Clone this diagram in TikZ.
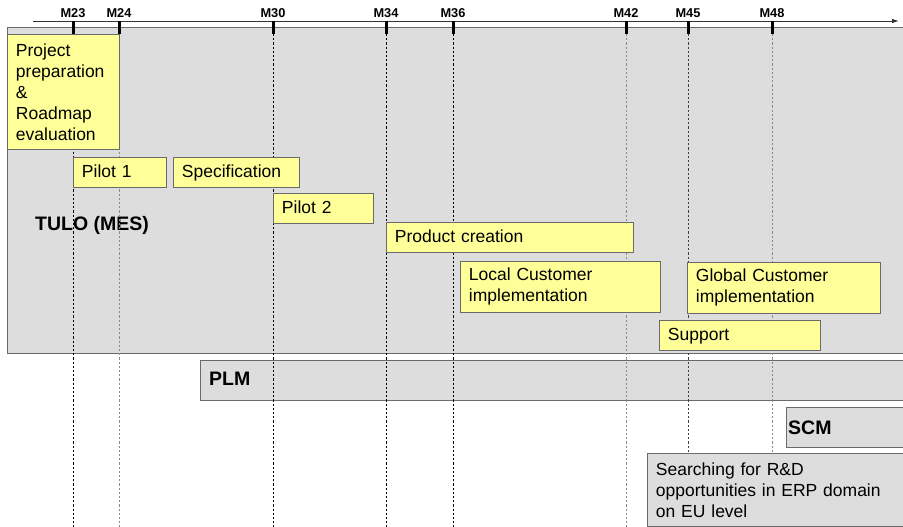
\documentclass[tikz,border=0pt]{standalone}
\usepackage{fontspec}
\setmainfont{Liberation Sans}
\usetikzlibrary{arrows.meta}
\definecolor{panel}{HTML}{DDDDDD}
\definecolor{note}{HTML}{FFFF99}
\definecolor{edge}{HTML}{6A6A6A}
\definecolor{guide}{HTML}{8A8A8A}

\begin{document}
\begin{tikzpicture}[x=1pt,y=-1pt,
  sz/.style n args={3}{minimum width=#1pt, minimum height=#2pt, text width=#3pt},
  task/.style={draw=edge, fill=note, line width=0.9pt, anchor=north west,
    inner xsep=8.5pt, inner ysep=0pt, align=left,
    font=\fontsize{17.5}{21}\selectfont},
  oneline/.style={text height=12.6pt, text depth=3.4pt},
  area/.style={draw=edge, fill=panel, line width=1pt, anchor=north west, inner sep=0pt},
  areaname/.style={anchor=west, inner sep=0pt, font=\fontsize{19.5}{22}\bfseries\selectfont},
  month/.style={anchor=base, inner sep=0pt, font=\fontsize{12.8}{14}\bfseries\selectfont},
  tick/.style={line width=3pt, black},
  guideline/.style={dashed, dash pattern=on 2.2pt off 2pt, line width=0.8pt},
]
\useasboundingbox (0,0) rectangle (903,527);
\clip (0,0) rectangle (903,527);

% background areas
\node[area, sz={910}{326}{910}] (tulo) at (7,27) {};
\node[areaname] (tulolbl) at (35,225) {TULO (MES)};
\node[area, sz={720}{40}{720}] (plm) at (200,360) {};
\node[areaname] (plmlbl) at (209,379) {PLM};
\node[area, sz={140}{40}{140}] (scm) at (786,407) {};
\node[areaname] (scmlbl) at (788,428) {SCM};

% time axis
\coordinate (axs) at (33,21);
\coordinate (axe) at (899,21);
\draw[line width=0.9pt, black!80, -{Latex[length=7pt,width=4.5pt]}] (axs) -- (axe);

% month ticks, labels and guide lines
\foreach \m/\x/\c in {23/73/black, 24/119/guide, 30/273/black, 34/386/black,
                      36/453/black, 42/626/guide, 45/688/black!75, 48/772/guide} {
  \coordinate (top\m) at (\x,21);
  \coordinate (mid\m) at (\x,34);
  \coordinate (bot\m) at (\x,527);
  \draw[guideline, draw=\c] (mid\m) -- (bot\m);
  \draw[tick] (top\m) -- (mid\m);
  \node[month] (lbl\m) at (\x,17.3) {M\m};
}

% activities
\node[task, sz={112}{115}{95}] (prep) at (7,34)
  {Project\\preparation\\\&\\Roadmap\\evaluation};
\node[task, oneline, sz={93}{30}{76}] (pilot1) at (73,157) {Pilot 1};
\node[task, oneline, sz={126}{30}{109}] (spec) at (173,157) {Specification};
\node[task, oneline, sz={100}{30}{83}] (pilot2) at (273,193) {Pilot 2};
\node[task, oneline, sz={247}{30}{230}] (prod) at (386,222) {Product creation};
\node[task, sz={200}{51}{183}] (local) at (460,261) {Local Customer\\implementation};
\node[task, sz={193}{51}{176}] (global) at (687,262) {Global Customer\\implementation};
\node[task, oneline, sz={161}{30}{144}] (support) at (659,320) {Support};
\node[task, fill=panel, sz={270}{73}{253}] (search) at (647,453)
  {Searching for R\&D\\opportunities in ERP domain\\on EU level};
\end{tikzpicture}
\end{document}
